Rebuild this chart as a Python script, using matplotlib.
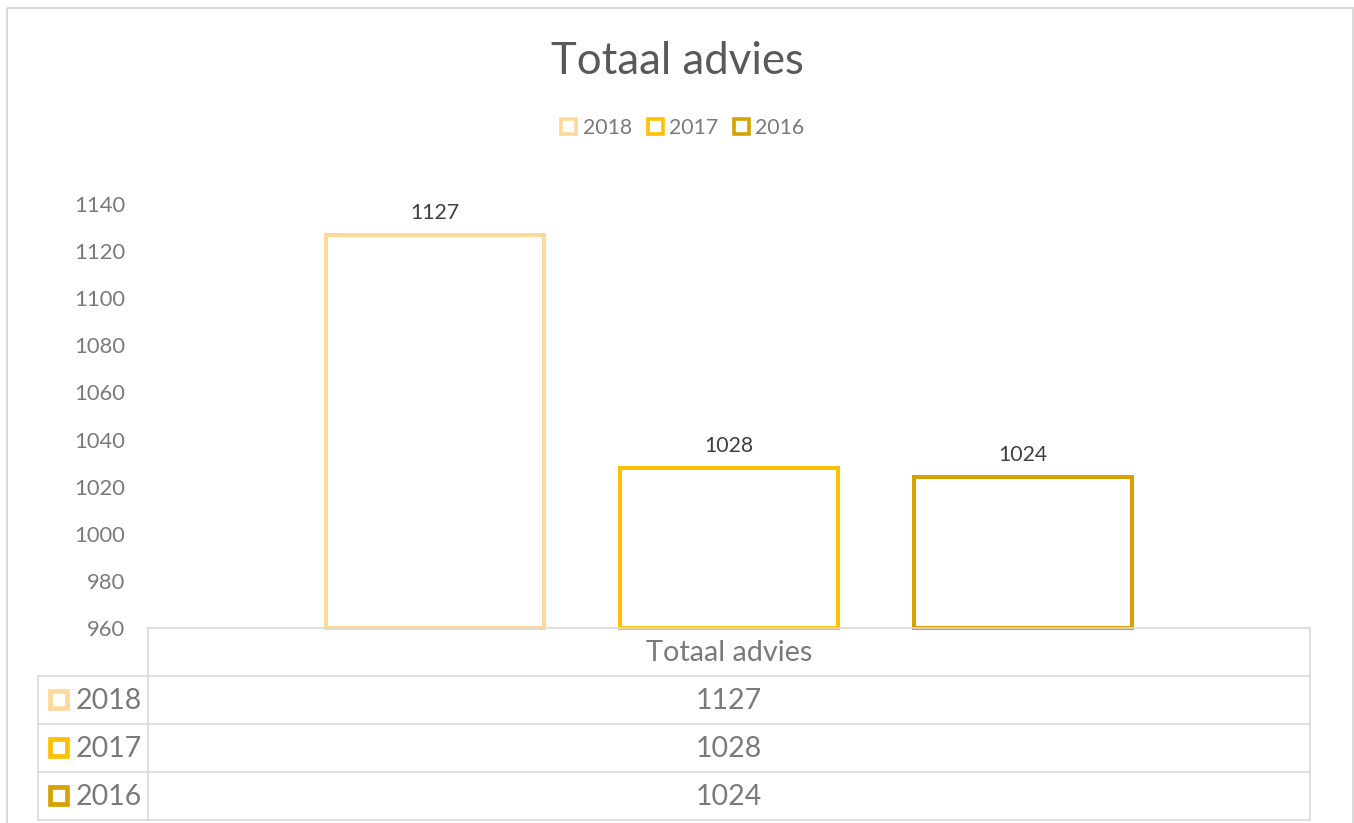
import numpy as np
import matplotlib
matplotlib.use('Agg')
import matplotlib.pyplot as plt
from matplotlib.patches import Patch, Rectangle

plt.rcParams['font.family'] = ['Lato', 'DejaVu Sans']

# data
title = "Totaal advies"
category = "Totaal advies"
years = ["2018", "2017", "2016"]
values = [1127, 1028, 1024]
colors = ["#FFD999", "#FFC000", "#D6A200"]
y_min, y_max, y_step = 960, 1140, 20

W, H = 1354, 823
GRID = "#D9D9D9"
TXT = "#7A7A7A"

fig = plt.figure(figsize=(W / 100, H / 100), dpi=100)

# background axes in pixel coordinates (frame + data table)
bg = fig.add_axes([0, 0, 1, 1])
bg.set_xlim(0, W)
bg.set_ylim(H, 0)
bg.axis('off')
bg.add_patch(Rectangle((7, 8), 1346, 830, fill=False, ec=GRID, lw=1.5, clip_on=False))

# main plot axes
left, right, top, bottom = 148, 1310, 204, 628
ax = fig.add_axes([left / W, 1 - bottom / H, (right - left) / W, (bottom - top) / H])
ax.set_xlim(0, 1)
ax.set_ylim(y_min, y_max)
for s in ['top', 'right', 'left']:
    ax.spines[s].set_visible(False)
ax.spines['bottom'].set_color(GRID)
ax.spines['bottom'].set_linewidth(1.2)
ax.set_xticks([])
ax.set_yticks(np.arange(y_min, y_max + 1, y_step))
ax.tick_params(axis='y', length=0, pad=16.5, labelsize=15.8, labelcolor=TXT)

offsets = (np.arange(len(years)) - 1) * 0.253
bar_w = 0.187
for off, v, c in zip(offsets, values, colors):
    ax.bar(0.5 + off, v - y_min, bottom=y_min, width=bar_w, facecolor='white',
           edgecolor=c, linewidth=2.9, clip_on=False)
    ax.annotate(str(v), (0.5 + off, v), xytext=(0, 11.5), textcoords='offset points',
                ha='center', va='baseline', fontsize=15.3, color='#404040')

fig.text(0.5, 1 - 61 / H, title, ha='center', va='center', fontsize=31.5, color='#595959')

handles = [Patch(facecolor='white', edgecolor=c, linewidth=2.6) for c in colors]
fig.legend(handles, years, loc='center', bbox_to_anchor=(683 / W, 1 - 128 / H), ncol=3,
           frameon=False, fontsize=15.3, labelcolor=TXT, handlelength=0.7, handleheight=0.7,
           handletextpad=0.3, columnspacing=0.75)

# data table
col0, col1, col2 = 38, 148, 1310
rows = [628, 676, 724, 772, 820]
lw = 1.2
bg.plot([col1, col1], [rows[0], rows[-1]], color=GRID, lw=lw)
bg.plot([col2, col2], [rows[0], rows[-1]], color=GRID, lw=lw)
bg.plot([col0, col0], [rows[1], rows[-1]], color=GRID, lw=lw)
for r in rows[1:]:
    bg.plot([col0, col2], [r, r], color=GRID, lw=lw)

mid = (col1 + col2) / 2
bg.text(mid, (rows[0] + rows[1]) / 2 + 1, category, ha='center', va='center', fontsize=20.8, color=TXT)
for i, (yr, v, c) in enumerate(zip(years, values, colors)):
    yc = (rows[i + 1] + rows[i + 2]) / 2
    bg.add_patch(Rectangle((50, yc - 9), 17, 17, facecolor='white', edgecolor=c, lw=3.4))
    bg.text(76, yc + 1, yr, ha='left', va='center', fontsize=20.5, color=TXT)
    bg.text(mid, yc + 1, str(v), ha='center', va='center', fontsize=20.5, color=TXT)

fig.savefig('out.png', dpi=100)
